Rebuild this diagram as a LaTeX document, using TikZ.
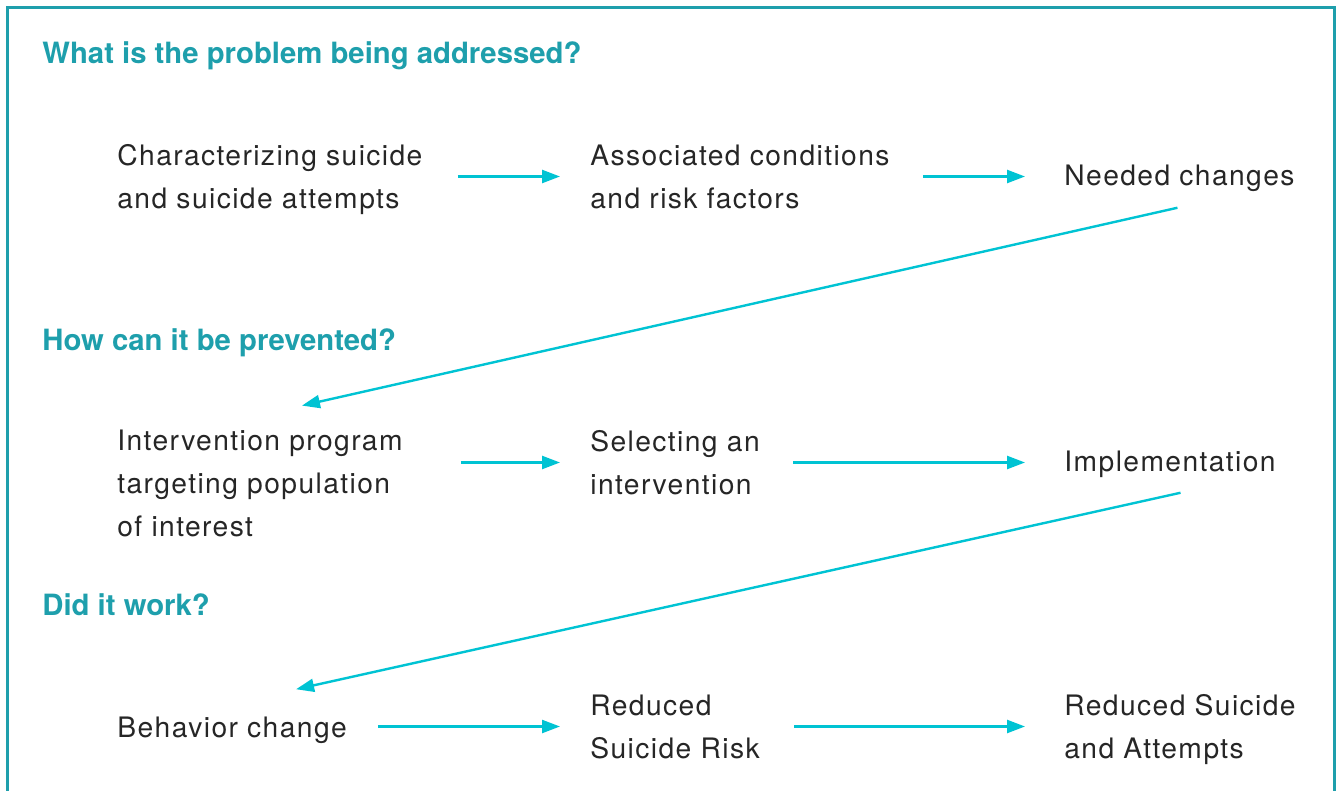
\documentclass[tikz,border=0pt]{standalone}
\usepackage{fontspec}
\setmainfont{TeX Gyre Heros}
\newfontfamily\stagefont[LetterSpace=5]{TeX Gyre Heros}
\usetikzlibrary{arrows.meta}
\definecolor{tealhead}{HTML}{1E9FAC}
\definecolor{cyanarr}{HTML}{00C3D3}
\definecolor{inkgray}{HTML}{262626}
\tikzset{
	question/.style={anchor=west, inner sep=0pt, text=tealhead,
		font=\fontsize{14.65}{18}\selectfont\bfseries},
	stage/.style={anchor=west, inner sep=0pt, align=left, text=inkgray,
		font=\stagefont\fontsize{14.1}{21.5}\selectfont},
	flow/.style={-{Triangle[length=9pt,width=6.5pt]}, cyanarr, line width=1.2pt}
}

\begin{document}
\begin{tikzpicture}[x=0.5pt,y=-0.5pt]
	\useasboundingbox (0,0) rectangle (1338,791);
	\draw[tealhead, line width=1.5pt] (7,791) -- (7,8) -- (1334,8) -- (1334,791);
	% questions
	\node[question] (qprob) at (42,56) {What is the problem being addressed?};
	\node[question] (qprev) at (42,343) {How can it be prevented?};
	\node[question] (qwork) at (42,605) {Did it work?};
	% first row
	\node[stage] (charact) at (117,179.5) {Characterizing suicide\\and suicide attempts};
	\node[stage] (assoc) at (590,176.5) {Associated conditions\\and risk factors};
	\node[stage] (needed) at (1064,178) {Needed changes};
	% second row
	\node[stage] (interv) at (117,483.5) {Intervention program\\targeting population\\of interest};
	\node[stage] (select) at (590,462.5) {Selecting an\\intervention};
	\node[stage] (implem) at (1064,464) {Implementation};
	% third row
	\node[stage] (behav) at (117,730) {Behavior change};
	\node[stage] (redrisk) at (590,726.5) {Reduced\\Suicide Risk};
	\node[stage] (redatt) at (1064,729.5) {Reduced Suicide\\and Attempts};
	% arrows
	\draw[flow, shorten <=17.5pt, shorten >=15pt] (charact.east |- assoc.west) -- (assoc.west);
	\draw[flow, shorten <=16.5pt, shorten >=19.5pt] (assoc.east) -- (assoc.east -| needed.west);
	\draw[flow] ([xshift=-1pt,yshift=-8pt]needed.south) -- ([xshift=21pt,yshift=12pt]interv.north);
	\draw[flow, shorten <=29pt, shorten >=15pt] (interv.east |- select.west) -- (select.west);
	\draw[flow, shorten <=16.5pt, shorten >=19.5pt] (select.east) -- (select.east -| implem.west);
	\draw[flow] ([xshift=5.25pt,yshift=-7.5pt]implem.south) -- ([xshift=32pt,yshift=13.5pt]behav.north);
	\draw[flow, shorten <=15.5pt, shorten >=15pt] (behav.east |- redrisk.west) -- (redrisk.west);
	\draw[flow, shorten <=17pt, shorten >=19.5pt] (redrisk.east) -- (redrisk.east -| redatt.west);
\end{tikzpicture}
\end{document}
